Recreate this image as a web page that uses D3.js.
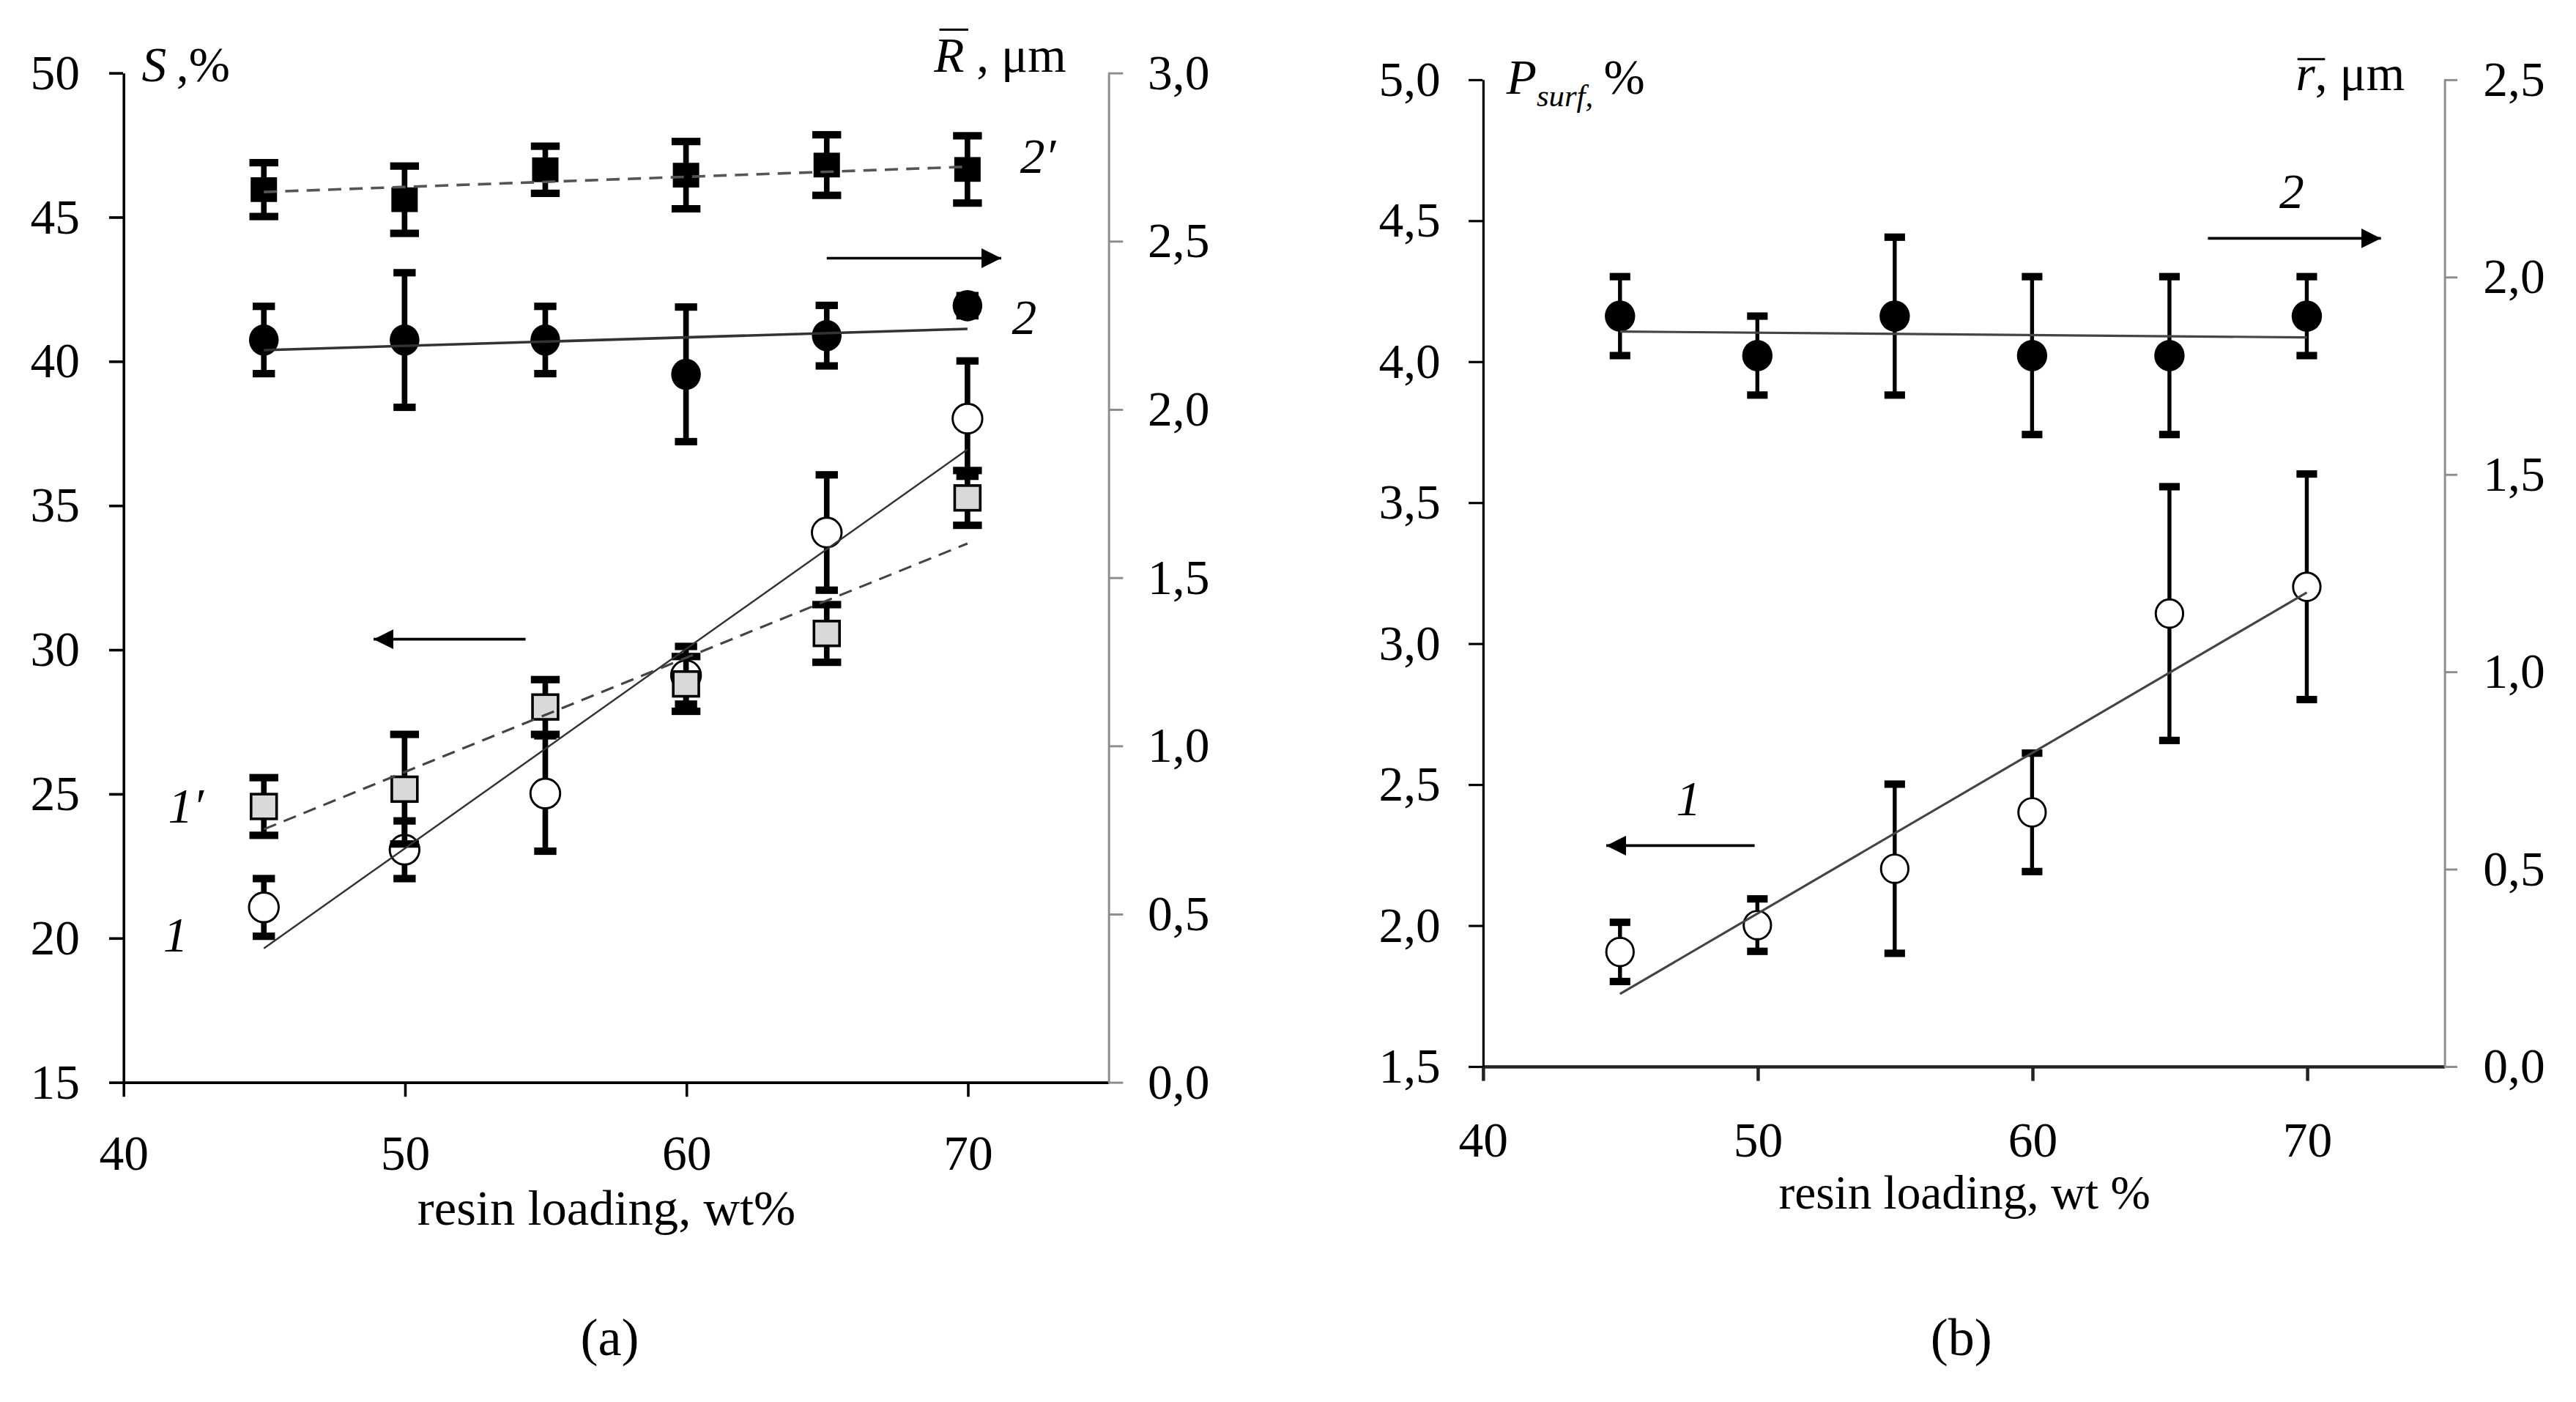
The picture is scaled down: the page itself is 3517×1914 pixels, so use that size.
<!DOCTYPE html>
<html lang="en">
<head>
<meta charset="utf-8">
<title>Resin loading: S, R, Psurf, r</title>
<script src="https://cdn.jsdelivr.net/npm/d3@7"></script>
<style>
  body { margin: 0; background: #fff; }
  svg { display: block; }
  text { font-family: "Liberation Serif", "Times New Roman", serif; fill: #000; }
</style>
</head>
<body>
<script>
// ---- data ----
var loading = [45, 50, 55, 60, 65, 70];

// panel (a): S, % on the left axis
var s1 = [21.05, 23.05, 25.0, 29.1, 34.05, 38.0];
var s1Err = [1.0, 1.0, 2.0, 1.0, 2.0, 2.0];
var s1p = [24.55, 25.15, 28.0, 28.8, 30.55, 35.25];
var s1pErr = [1.0, 1.9, 0.95, 0.95, 1.0, 0.95];
// panel (a): mean R, um on the right axis
var r2 = [2.205, 2.205, 2.205, 2.103, 2.218, 2.307];
var r2Err = [0.10, 0.20, 0.10, 0.20, 0.09, 0.03];
var r2p = [2.652, 2.622, 2.711, 2.695, 2.725, 2.712];
var r2pErr = [0.08, 0.10, 0.07, 0.10, 0.09, 0.10];
// trend lines, value at 45 and at 70
var fit1 = [19.63, 36.93];
var fit1p = [23.76, 33.67];
var fit2 = [2.175, 2.238];
var fit2p = [2.645, 2.720];

// panel (b): Psurf, % on the left axis, mean r, um on the right axis
var p1 = [1.905, 2.0, 2.2, 2.4, 3.105, 3.2];
var p1Err = [0.105, 0.093, 0.30, 0.21, 0.45, 0.40];
var rb2 = [1.9, 1.8, 1.9, 1.8, 1.8, 1.9];
var rb2Err = [0.1, 0.1, 0.2, 0.2, 0.2, 0.1];
var fitP = [1.756, 3.18];
var fitR = [1.861, 1.846];

// ticks
var xTicks = [40, 50, 60, 70];
var sTicks = [15, 20, 25, 30, 35, 40, 45, 50];
var rTicksA = [0, 0.5, 1, 1.5, 2, 2.5, 3];
var pTicks = [1.5, 2, 2.5, 3, 3.5, 4, 4.5, 5];
var rTicksB = [0, 0.5, 1, 1.5, 2, 2.5];

// ---- canvas (drawn in a 1563 x 850.6 frame, scaled to the window) ----
var W = 3517, H = 1914;
var svg = d3.select("body").append("svg")
    .attr("width", W).attr("height", H)
    .attr("viewBox", "0 0 1563 850.6");

var comma = d3.formatLocale({decimal: ",", thousands: " ", grouping: [3], currency: ["", ""]}).format(".1f");
var FS = 30;

// scales
var xA = d3.scaleLinear().domain([40, 75]).range([74.7, 672.4]);
var yS = d3.scaleLinear().domain([15, 50]).range([656.4, 44]);
var yR = d3.scaleLinear().domain([0, 3]).range([656.4, 44]);

var xB = d3.scaleLinear().domain([40, 75]).range([899.6, 1483]);
var yP = d3.scaleLinear().domain([1.5, 5]).range([646.8, 48.1]);
var yr = d3.scaleLinear().domain([0, 2.5]).range([646.8, 48.1]);

function styleAxis(g, color, width) {
    g.attr("font-family", null).attr("font-size", FS);
    g.select(".domain").attr("stroke", color).attr("stroke-width", width);
    g.selectAll(".tick line").attr("stroke", color).attr("stroke-width", width);
    g.selectAll(".tick text").attr("fill", "#000");
}

// ---- axes panel (a) ----
svg.append("g").attr("transform", "translate(0,656.4)")
    .call(d3.axisBottom(xA).tickValues(xTicks).tickSize(9).tickSizeOuter(0).tickPadding(23).tickFormat(d3.format("d")))
    .call(styleAxis, "#000", 1.6);
svg.append("g").attr("transform", "translate(74.7,0)")
    .call(d3.axisLeft(yS).tickValues(sTicks).tickSize(8.5).tickSizeOuter(0).tickPadding(17.8).tickFormat(d3.format("d")))
    .call(styleAxis, "#000", 1.6);
svg.append("g").attr("transform", "translate(672.4,0)")
    .call(d3.axisRight(yR).tickValues(rTicksA).tickSize(9).tickSizeOuter(0).tickPadding(15).tickFormat(comma))
    .call(styleAxis, "#8c8c8c", 1.3);

// ---- axes panel (b) ----
svg.append("g").attr("transform", "translate(0,646.8)")
    .call(d3.axisBottom(xB).tickValues(xTicks).tickSize(9).tickSizeOuter(0).tickPadding(24.5).tickFormat(d3.format("d")))
    .call(styleAxis, "#222", 2);
svg.append("g").attr("transform", "translate(899.6,0)")
    .call(d3.axisLeft(yP).tickValues(pTicks).tickSize(8.5).tickSizeOuter(0).tickPadding(17).tickFormat(comma))
    .call(styleAxis, "#000", 1.4);
svg.append("g").attr("transform", "translate(1483,0)")
    .call(d3.axisRight(yr).tickValues(rTicksB).tickSize(8).tickSizeOuter(0).tickPadding(15.7).tickFormat(comma))
    .call(styleAxis, "#8c8c8c", 1.3);

// ---- series helpers ----
function trend(x, y, vals, color, width, dash) {
    var pts = [[45, vals[0]], [70, vals[1]]];
    svg.append("path")
        .attr("d", d3.line().x(function(d) { return x(d[0]); }).y(function(d) { return y(d[1]); })(pts))
        .attr("fill", "none")
        .attr("stroke", color)
        .attr("stroke-width", width)
        .attr("stroke-dasharray", dash || null);
}

function series(x, y, vals, errs, o) {
    var g = svg.append("g");
    var pts = loading.map(function(d, i) { return {x: d, v: vals[i], e: errs[i]}; });
    // error bars
    g.selectAll("line.eb").data(pts).enter().append("line")
        .attr("x1", function(d) { return x(d.x); })
        .attr("x2", function(d) { return x(d.x); })
        .attr("y1", function(d) { return y(d.v - d.e); })
        .attr("y2", function(d) { return y(d.v + d.e); })
        .attr("stroke", "#000").attr("stroke-width", o.bw);
    [-1, 1].forEach(function(s) {
        g.selectAll(null).data(pts).enter().append("rect")
            .attr("x", function(d) { return x(d.x) - o.cw / 2; })
            .attr("y", function(d) { return y(d.v + s * d.e) - o.ch / 2; })
            .attr("width", o.cw).attr("height", o.ch)
            .attr("fill", "#000");
    });
    // markers
    if (o.shape === "square") {
        g.selectAll("rect.m").data(pts).enter().append("rect")
            .attr("x", function(d) { return x(d.x) - o.w / 2; })
            .attr("y", function(d) { return y(d.v) - o.h / 2; })
            .attr("width", o.w).attr("height", o.h)
            .attr("fill", o.fill).attr("stroke", "#000").attr("stroke-width", o.sw);
    } else {
        g.selectAll("ellipse.m").data(pts).enter().append("ellipse")
            .attr("cx", function(d) { return x(d.x); })
            .attr("cy", function(d) { return y(d.v); })
            .attr("rx", o.rx).attr("ry", o.ry)
            .attr("fill", o.fill).attr("stroke", "#000").attr("stroke-width", o.sw);
    }
}

// ---- panel (a) marks ----
series(xA, yR, r2p, r2pErr, {shape: "square", w: 16, h: 15, fill: "#000", sw: 0, bw: 3.4, cw: 17.5, ch: 4.5});
series(xA, yR, r2, r2Err, {shape: "circle", rx: 9, ry: 9.5, fill: "#000", sw: 0, bw: 3.4, cw: 13.5, ch: 4.5});
series(xA, yS, s1, s1Err, {shape: "circle", rx: 9, ry: 9, fill: "#fff", sw: 1.3, bw: 3.4, cw: 13.5, ch: 4.5});
series(xA, yS, s1p, s1pErr, {shape: "square", w: 15.5, h: 15, fill: "#d9d9d9", sw: 1.6, bw: 3.4, cw: 17.5, ch: 4.5});

trend(xA, yR, fit2p, "#555", 1.6, "8,5");
trend(xA, yR, fit2, "#333", 1.6);
trend(xA, yS, fit1, "#333", 1.1);
trend(xA, yS, fit1p, "#444", 1.4, "8,5");

// ---- panel (b) marks ----
series(xB, yr, rb2, rb2Err, {shape: "circle", rx: 9.2, ry: 9.5, fill: "#000", sw: 0, bw: 2.4, cw: 12.5, ch: 4.5});
series(xB, yP, p1, p1Err, {shape: "circle", rx: 8.3, ry: 8.6, fill: "#fff", sw: 1.3, bw: 2.4, cw: 12.5, ch: 4.5});
trend(xB, yr, fitR, "#444", 1.4);
trend(xB, yP, fitP, "#444", 1.4);

// ---- arrows ----
svg.append("defs").append("marker")
    .attr("id", "head").attr("viewBox", "0 0 10 10")
    .attr("refX", 10).attr("refY", 5)
    .attr("markerWidth", 7.5).attr("markerHeight", 7.5)
    .attr("markerUnits", "strokeWidth")
    .attr("orient", "auto")
    .append("path").attr("d", "M0,0L10,5L0,10z").attr("fill", "#000");

function arrow(x1, x2, y) {
    svg.append("line")
        .attr("x1", x1).attr("x2", x2).attr("y1", y).attr("y2", y)
        .attr("stroke", "#000").attr("stroke-width", 1.6)
        .attr("marker-end", "url(#head)");
}
arrow(xA(65.0), xA(71.2), yR(2.448));
arrow(xA(54.3), xA(48.9), yS(30.35));
arrow(xB(66.4), xB(72.7), yr(2.097));
arrow(xB(49.9), xB(44.5), yP(2.282));

// ---- curve labels ----
function label(x, y, t) {
    svg.append("text").attr("x", x).attr("y", y)
        .attr("font-size", FS).attr("font-style", "italic").text(t);
}
label(619, 105, "2\u2032");
label(614, 202.5, "2");
label(102, 499, "1\u2032");
label(99, 577.5, "1");
label(1383, 126, "2");
label(1017, 494.7, "1");

// ---- axis titles ----
var tS = svg.append("text").attr("x", 86).attr("y", 49.3).attr("font-size", FS);
tS.append("tspan").attr("font-style", "italic").text("S");
tS.append("tspan").text("\u2009,%");

var tR = svg.append("text").attr("x", 566.7).attr("y", 43.4).attr("font-size", FS);
tR.append("tspan").attr("font-style", "italic").text("R");
tR.append("tspan").text(" , \u03bcm");
svg.append("line").attr("x1", 570).attr("x2", 587.5).attr("y1", 18).attr("y2", 18)
    .attr("stroke", "#000").attr("stroke-width", 1.3);

var tP = svg.append("text").attr("x", 914).attr("y", 57).attr("font-size", FS);
tP.append("tspan").attr("font-style", "italic").text("P");
tP.append("tspan").attr("font-style", "italic").attr("font-size", 19).attr("dy", 7.4).text("surf,");
tP.append("tspan").attr("x", 973).attr("dy", -7.4).text("%");

var tr = svg.append("text").attr("x", 1393).attr("y", 54.8).attr("font-size", FS);
tr.append("tspan").attr("font-style", "italic").text("r");
tr.append("tspan").text(", \u03bcm");
svg.append("line").attr("x1", 1394).attr("x2", 1410.7).attr("y1", 35.9).attr("y2", 35.9)
    .attr("stroke", "#000").attr("stroke-width", 1.3);

svg.append("text").attr("x", 368).attr("y", 743).attr("font-size", 30.5)
    .attr("text-anchor", "middle").text("resin loading, wt%");
svg.append("text").attr("x", 1192).attr("y", 733.5).attr("font-size", 29)
    .attr("text-anchor", "middle").text("resin loading, wt %");

svg.append("text").attr("x", 370).attr("y", 822).attr("font-size", 32)
    .attr("text-anchor", "middle").text("(a)");
svg.append("text").attr("x", 1190).attr("y", 822).attr("font-size", 32)
    .attr("text-anchor", "middle").text("(b)");
</script>
</body>
</html>
